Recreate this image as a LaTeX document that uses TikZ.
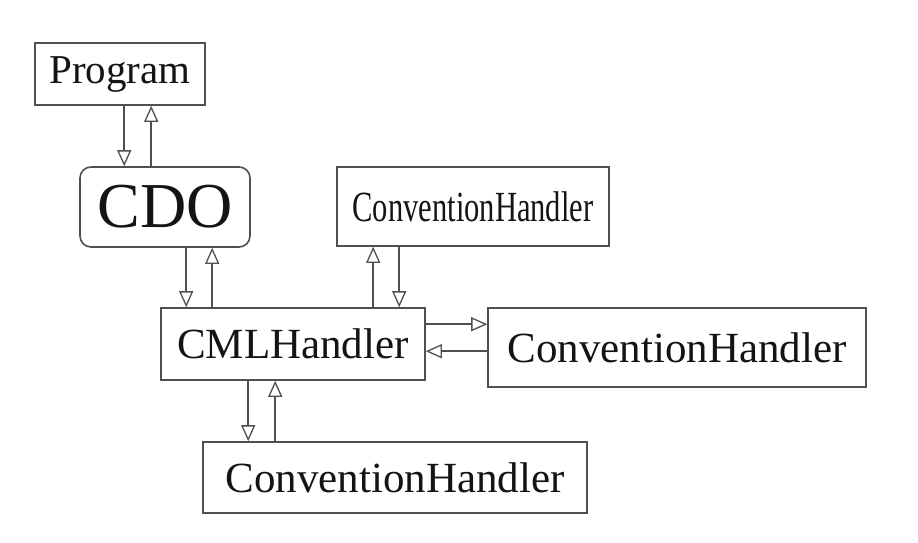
\documentclass[tikz,border=0pt]{standalone}
\usepackage{fontspec}
\setmainfont{Liberation Serif}
\usetikzlibrary{arrows.meta}
\definecolor{lc}{HTML}{505050}
\definecolor{tc}{HTML}{141414}
\begin{document}
\begin{tikzpicture}[x=1pt,y=-1pt,
  box/.style={draw=lc,line width=1.6pt,inner sep=0pt,text=tc,fill=white},
  arr/.style={draw=lc,line width=1.6pt,-{Triangle[open,length=16pt,width=14pt,line width=1.3pt]}},
  big/.style={font=\fontsize{43}{43}\selectfont}]
\useasboundingbox[fill=white] (0,0) rectangle (918,542);
\node[box,minimum width=170pt,minimum height=62pt,font=\fontsize{41}{41}\selectfont] (prog) at (120,74) {Program};
\node[box,rounded corners=11pt,minimum width=170pt,minimum height=80pt,font=\fontsize{64}{64}\selectfont] (cdo) at (165,207) {CDO};
\node[box,minimum width=272pt,minimum height=79pt,big] (cht) at (473,206.5) {\scalebox{0.71}[1]{ConventionHandler}};
\node[box,minimum width=264pt,minimum height=72pt,big] (cml) at (293,344) {CMLHandler};
\node[box,minimum width=378pt,minimum height=79pt,big] (chr) at (677,347.5) {ConventionHandler};
\node[box,minimum width=384pt,minimum height=71pt,big] (chb) at (395,477.5) {ConventionHandler};
% Program <-> CDO
\draw[arr] ([xshift=90pt]prog.south west) -- ([xshift=90pt]prog.south west |- cdo.north);
\draw[arr] ([xshift=117pt]prog.south west |- cdo.north) -- ([xshift=117pt]prog.south west);
% CDO <-> CML
\draw[arr] ([xshift=107pt]cdo.south west) -- ([xshift=107pt]cdo.south west |- cml.north);
\draw[arr] ([xshift=133pt]cdo.south west |- cml.north) -- ([xshift=133pt]cdo.south west);
% CML <-> CH top
\draw[arr] ([xshift=213pt]cml.north west) -- ([xshift=213pt]cml.north west |- cht.south);
\draw[arr] ([xshift=239pt]cml.north west |- cht.south) -- ([xshift=239pt]cml.north west);
% CML <-> CH right
\draw[arr] ([yshift=-17pt]cml.north east) -- ([yshift=-17pt]cml.north east -| chr.west);
\draw[arr] ([yshift=-44pt]cml.north east -| chr.west) -- ([yshift=-44pt]cml.north east);
% CML <-> CH bottom
\draw[arr] ([xshift=88pt]cml.south west) -- ([xshift=88pt]cml.south west |- chb.north);
\draw[arr] ([xshift=115pt]cml.south west |- chb.north) -- ([xshift=115pt]cml.south west);
\end{tikzpicture}
\end{document}
